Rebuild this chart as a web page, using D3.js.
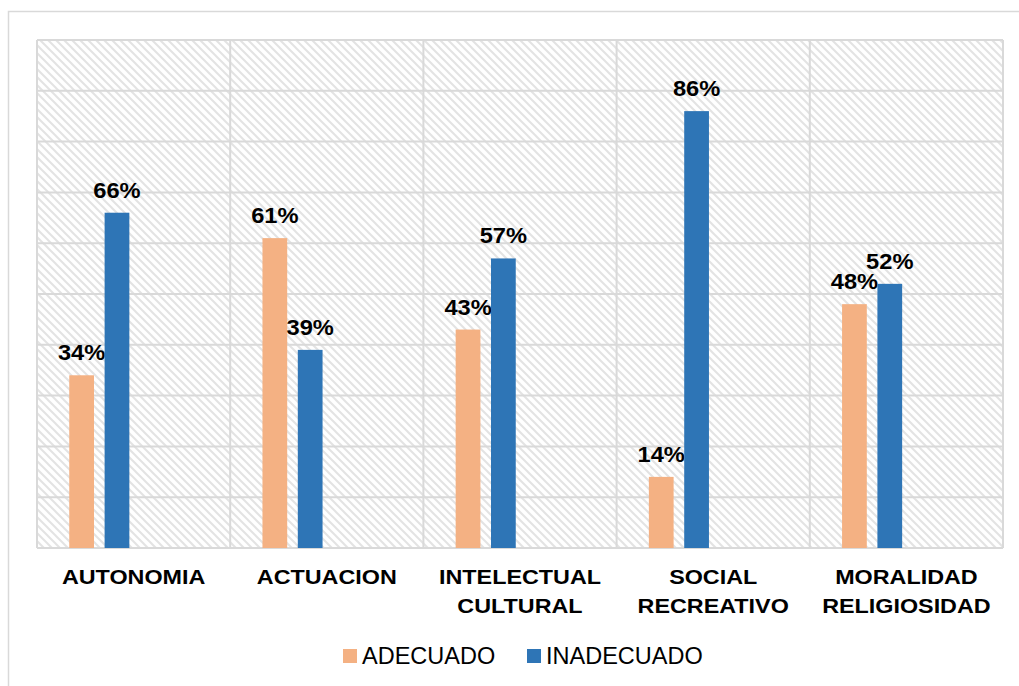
<!DOCTYPE html>
<html><head><meta charset="utf-8">
<script src="https://cdn.jsdelivr.net/npm/d3@7"></script>
<style>body{margin:0;background:#fff}svg{display:block}</style>
</head><body>
<script>
const categories = [["AUTONOMIA"],["ACTUACION"],["INTELECTUAL","CULTURAL"],["SOCIAL","RECREATIVO"],["MORALIDAD","RELIGIOSIDAD"]];
const seriesNames = ["ADECUADO","INADECUADO"];
const adecuado = [34,61,43,14,48];
const inadecuado = [66,39,57,86,52];
const colors = ["#F4B183","#2E75B6"];
const yTicks = [0,10,20,30,40,50,60,70,80,90,100];

(function(){
const W=1019,H=686;
const svg=d3.select("body").append("svg").attr("width",W).attr("height",H);
const defs=svg.append("defs");
const pat=defs.append("pattern").attr("id","hatch").attr("patternUnits","userSpaceOnUse").attr("width",8).attr("height",8);
pat.append("rect").attr("width",8).attr("height",8).attr("fill","#fff");
pat.append("path").attr("d","M-2,-2 L10,10 M-2,6 L2,10 M6,-2 L10,2").attr("stroke","#e3e3e3").attr("stroke-width",2);

svg.append("rect").attr("x",8.5).attr("y",11.5).attr("width",1030).attr("height",700).attr("fill","none").attr("stroke","#d9d9d9").attr("stroke-width",1.5);

const pl=37,pr=1003,pt=40,pb=548;
const keys=categories.map(c=>c.join(" "));
const x0=d3.scaleBand().domain(keys).range([pl,pr]).padding(0);
const bw=x0.bandwidth();
const x1=d3.scaleBand().domain(seriesNames).range([bw*0.167,bw*0.478]).paddingInner(0.3).paddingOuter(0);
const y=d3.scaleLinear().domain([0,100]).range([pb,pt]);

svg.append("rect").attr("x",pl).attr("y",pt).attr("width",pr-pl).attr("height",pb-pt).attr("fill","url(#hatch)");
svg.append("g").selectAll("line").data(yTicks).join("line")
 .attr("x1",pl).attr("x2",pr).attr("y1",d=>y(d)).attr("y2",d=>y(d))
 .attr("stroke","#d9d9d9").attr("stroke-width",2);
const vb=keys.map(k=>x0(k)).concat([pr]);
svg.append("g").selectAll("line").data(vb).join("line")
 .attr("x1",d=>d).attr("x2",d=>d).attr("y1",pt).attr("y2",pb)
 .attr("stroke","#d9d9d9").attr("stroke-width",2);

const data=[adecuado,inadecuado];
seriesNames.forEach((s,si)=>{
  const g=svg.append("g");
  g.selectAll("rect").data(data[si]).join("rect")
   .attr("x",(d,i)=>x0(keys[i])+x1(s)).attr("y",d=>y(d))
   .attr("width",x1.bandwidth()).attr("height",d=>pb-y(d)).attr("fill",colors[si]);
  g.selectAll("text").data(data[si]).join("text")
   .attr("transform",(d,i)=>`translate(${x0(keys[i])+x1(s)+x1.bandwidth()/2},${y(d)-15}) scale(1.1,1)`)
   .attr("text-anchor","middle").attr("font-family","Liberation Sans, Arial, sans-serif")
   .attr("font-weight","bold").attr("font-size",21.5).attr("fill","#000").text(d=>d+"%");
});

const cl=svg.append("g");
categories.forEach((c,i)=>{
  c.forEach((line,j)=>{
    cl.append("text").attr("transform",`translate(${x0(keys[i])+bw/2},${584+j*28.5}) scale(1.15,1)`)
      .attr("text-anchor","middle").attr("font-family","Liberation Sans, Arial, sans-serif")
      .attr("font-weight","bold").attr("font-size",20.3).attr("fill","#000").text(line);
  });
});

const legX=[343,527];
seriesNames.forEach((s,i)=>{
  svg.append("rect").attr("x",legX[i]).attr("y",649).attr("width",14).attr("height",14).attr("fill",colors[i]);
  svg.append("text").attr("x",legX[i]+19).attr("y",664).attr("font-family","Liberation Sans, Arial, sans-serif")
   .attr("font-size",23.5).attr("fill","#000").text(s);
});
})();
</script>
</body></html>
